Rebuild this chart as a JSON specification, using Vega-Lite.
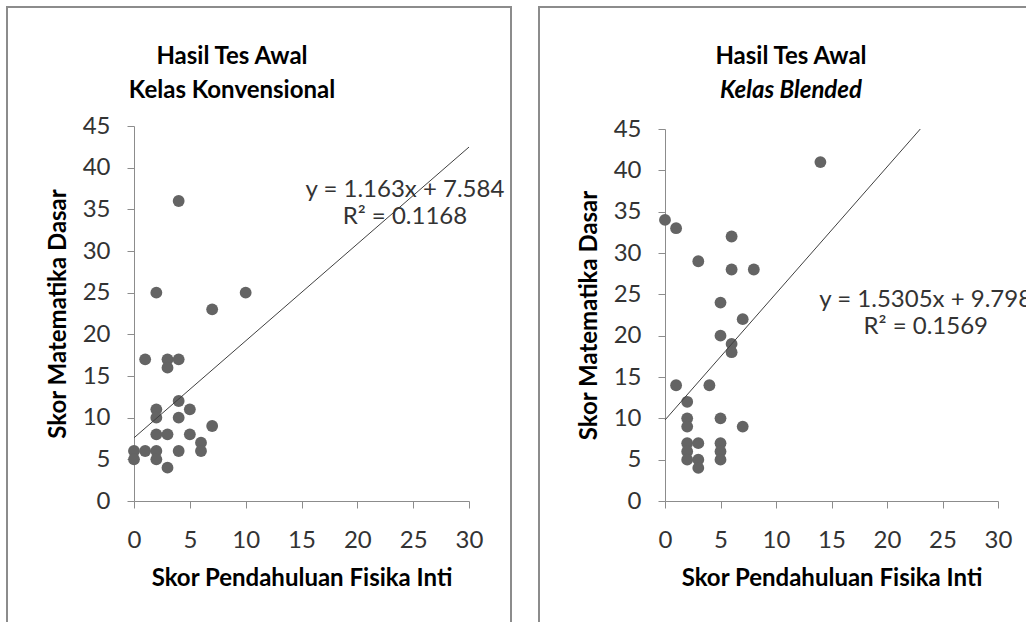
{
  "$schema": "https://vega.github.io/schema/vega-lite/v6.json",
  "padding": {"left": 6, "top": 6, "right": 0, "bottom": 0},
  "spacing": 26,
  "config": {
    "font": "Lato",
    "view": {"stroke": "#8c8c8c", "strokeWidth": 2},
    "axis": {
      "grid": false,
      "labelFlush": false,
      "domainColor": "#8c8c8c",
      "domainWidth": 1,
      "tickColor": "#8c8c8c",
      "tickSize": 7,
      "labelFont": "Lato",
      "labelFontSize": 24,
      "labelColor": "#333333",
      "titleFont": "Lato",
      "titleFontSize": 24,
      "titleFontWeight": "bold",
      "titleColor": "#000000"
    },
    "title": {
      "font": "Lato",
      "fontSize": 24,
      "fontWeight": "bold",
      "color": "#000000",
      "subtitleFont": "Lato",
      "subtitleFontSize": 24,
      "subtitleFontWeight": "bold",
      "subtitleColor": "#000000",
      "subtitlePadding": 10,
      "anchor": "middle",
      "frame": "group"
    }
  },
  "datasets": {
    "konvensional": [
      {"fisika": 4, "matematika": 36},
      {"fisika": 2, "matematika": 25},
      {"fisika": 10, "matematika": 25},
      {"fisika": 7, "matematika": 23},
      {"fisika": 1, "matematika": 17},
      {"fisika": 3, "matematika": 17},
      {"fisika": 4, "matematika": 17},
      {"fisika": 3, "matematika": 16},
      {"fisika": 4, "matematika": 12},
      {"fisika": 2, "matematika": 11},
      {"fisika": 5, "matematika": 11},
      {"fisika": 2, "matematika": 10},
      {"fisika": 4, "matematika": 10},
      {"fisika": 7, "matematika": 9},
      {"fisika": 2, "matematika": 8},
      {"fisika": 3, "matematika": 8},
      {"fisika": 5, "matematika": 8},
      {"fisika": 6, "matematika": 7},
      {"fisika": 0, "matematika": 6},
      {"fisika": 1, "matematika": 6},
      {"fisika": 2, "matematika": 6},
      {"fisika": 4, "matematika": 6},
      {"fisika": 6, "matematika": 6},
      {"fisika": 0, "matematika": 5},
      {"fisika": 2, "matematika": 5},
      {"fisika": 3, "matematika": 4}
    ],
    "blended": [
      {"fisika": 14, "matematika": 41},
      {"fisika": 0, "matematika": 34},
      {"fisika": 1, "matematika": 33},
      {"fisika": 6, "matematika": 32},
      {"fisika": 3, "matematika": 29},
      {"fisika": 6, "matematika": 28},
      {"fisika": 8, "matematika": 28},
      {"fisika": 5, "matematika": 24},
      {"fisika": 7, "matematika": 22},
      {"fisika": 5, "matematika": 20},
      {"fisika": 6, "matematika": 19},
      {"fisika": 6, "matematika": 18},
      {"fisika": 1, "matematika": 14},
      {"fisika": 4, "matematika": 14},
      {"fisika": 2, "matematika": 12},
      {"fisika": 2, "matematika": 10},
      {"fisika": 5, "matematika": 10},
      {"fisika": 2, "matematika": 9},
      {"fisika": 7, "matematika": 9},
      {"fisika": 2, "matematika": 7},
      {"fisika": 3, "matematika": 7},
      {"fisika": 5, "matematika": 7},
      {"fisika": 2, "matematika": 6},
      {"fisika": 5, "matematika": 6},
      {"fisika": 2, "matematika": 5},
      {"fisika": 3, "matematika": 5},
      {"fisika": 5, "matematika": 5},
      {"fisika": 3, "matematika": 4}
    ],
    "garisKonvensional": [
      {"fisika": 0, "matematika": 7.584},
      {"fisika": 30, "matematika": 42.474}
    ],
    "garisBlended": [
      {"fisika": 0, "matematika": 9.798},
      {"fisika": 23, "matematika": 45.0}
    ],
    "persamaanKonvensional": [
      {"baris": ["y = 1.163x + 7.584", "R² = 0.1168"]}
    ],
    "persamaanBlended": [
      {"baris": ["y = 1.5305x + 9.798", "R² = 0.1569"]}
    ]
  },
  "hconcat": [
    {
      "width": 504,
      "height": 640,
      "title": {"text": "Hasil Tes Awal", "subtitle": "Kelas Konvensional", "offset": -96, "dx": -27},
      "layer": [
        {
          "data": {"name": "konvensional"},
          "mark": {"type": "point", "filled": true, "shape": "circle", "size": 140, "color": "#646464", "opacity": 1, "strokeWidth": 0},
          "encoding": {
            "x": {
              "field": "fisika", "type": "quantitative",
              "scale": {"domain": [0, 30], "range": [127, 462], "nice": false, "zero": false},
              "axis": {"orient": "bottom", "offset": -146, "values": [0, 5, 10, 15, 20, 25, 30], "labelPadding": 20, "titlePadding": 14, "title": "Skor Pendahuluan Fisika Inti"}
            },
            "y": {
              "field": "matematika", "type": "quantitative",
              "scale": {"domain": [0, 45], "range": [494, 119], "nice": false, "zero": false},
              "axis": {"orient": "left", "offset": -127, "values": [0, 5, 10, 15, 20, 25, 30, 35, 40, 45], "labelPadding": 17, "titlePadding": 12, "title": "Skor Matematika Dasar"}
            }
          }
        },
        {
          "data": {"name": "garisKonvensional"},
          "mark": {"type": "line", "color": "#404040", "strokeWidth": 1},
          "encoding": {
            "x": {"field": "fisika", "type": "quantitative"},
            "y": {"field": "matematika", "type": "quantitative"}
          }
        },
        {
          "data": {"name": "persamaanKonvensional"},
          "mark": {"type": "text", "font": "Lato", "fontSize": 24, "color": "#333333", "align": "center", "baseline": "middle", "lineHeight": 27},
          "encoding": {
            "x": {"datum": 24.26, "type": "quantitative"},
            "y": {"datum": 37.3, "type": "quantitative"},
            "text": {"field": "baris"}
          }
        }
      ]
    },
    {
      "width": 504,
      "height": 640,
      "title": {"text": "Hasil Tes Awal", "subtitle": "Kelas Blended", "subtitleFontStyle": "italic", "offset": -96, "dx": 0},
      "layer": [
        {
          "data": {"name": "blended"},
          "mark": {"type": "point", "filled": true, "shape": "circle", "size": 140, "color": "#646464", "opacity": 1, "strokeWidth": 0},
          "encoding": {
            "x": {
              "field": "fisika", "type": "quantitative",
              "scale": {"domain": [0, 30], "range": [126, 459], "nice": false, "zero": false},
              "axis": {"orient": "bottom", "offset": -146, "values": [0, 5, 10, 15, 20, 25, 30], "labelPadding": 20, "titlePadding": 14, "title": "Skor Pendahuluan Fisika Inti"}
            },
            "y": {
              "field": "matematika", "type": "quantitative",
              "scale": {"domain": [0, 45], "range": [494, 122], "nice": false, "zero": false},
              "axis": {"orient": "left", "offset": -126, "values": [0, 5, 10, 15, 20, 25, 30, 35, 40, 45], "labelPadding": 17, "titlePadding": 12, "title": "Skor Matematika Dasar"}
            }
          }
        },
        {
          "data": {"name": "garisBlended"},
          "mark": {"type": "line", "color": "#404040", "strokeWidth": 1},
          "encoding": {
            "x": {"field": "fisika", "type": "quantitative"},
            "y": {"field": "matematika", "type": "quantitative"}
          }
        },
        {
          "data": {"name": "persamaanBlended"},
          "mark": {"type": "text", "font": "Lato", "fontSize": 24, "color": "#333333", "align": "center", "baseline": "middle", "lineHeight": 27},
          "encoding": {
            "x": {"datum": 23.49, "type": "quantitative"},
            "y": {"datum": 24.28, "type": "quantitative"},
            "text": {"field": "baris"}
          }
        }
      ]
    }
  ]
}
